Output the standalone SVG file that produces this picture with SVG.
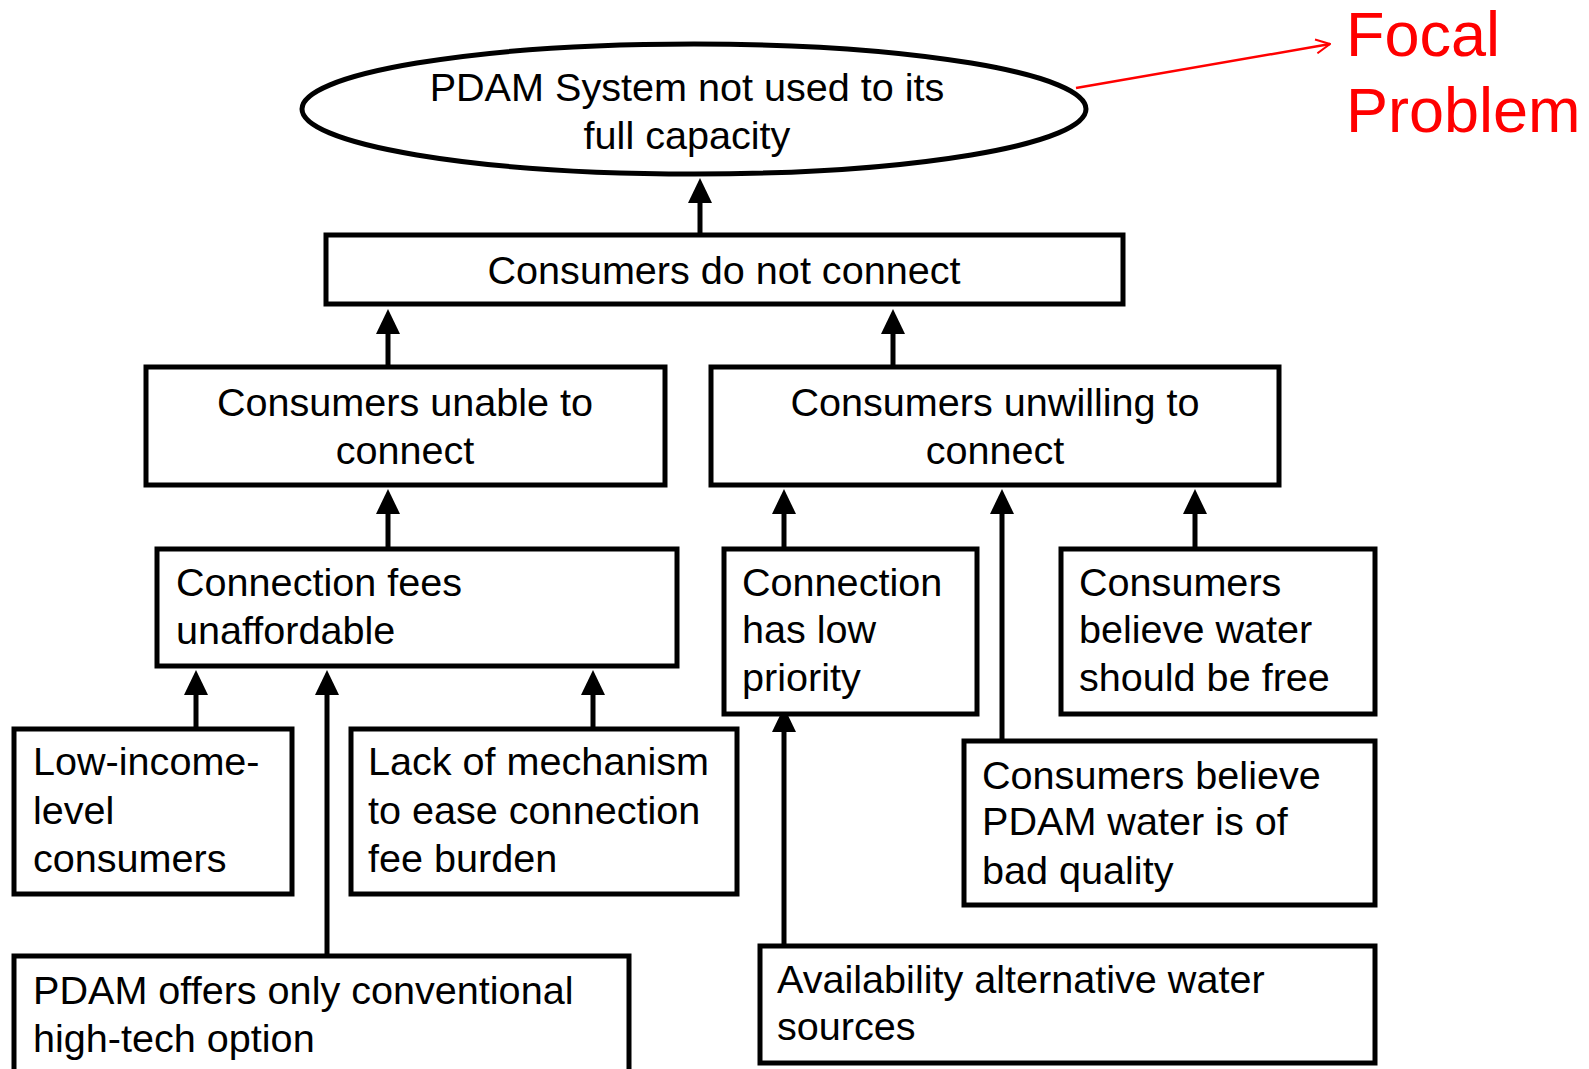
<svg xmlns="http://www.w3.org/2000/svg" width="1589" height="1069" viewBox="0 0 1589 1069">
<style>
.box{fill:#fff;stroke:#000;stroke-width:5}
.t{font-family:"Liberation Sans",Arial,sans-serif;font-size:39.6px;fill:#000}
.c{text-anchor:middle}
.con{stroke:#000;stroke-width:5;fill:none;marker-end:url(#ah)}
.red{font-family:"Liberation Sans",Arial,sans-serif;font-size:63px;fill:#ff0000}
</style>
<defs>
<marker id="ah" markerUnits="userSpaceOnUse" viewBox="0 0 25 24" markerWidth="25" markerHeight="24" refX="2" refY="12" orient="auto">
<path d="M0,0 L25,12 L0,24 z" fill="#000"/>
</marker>
<marker id="ro" markerUnits="userSpaceOnUse" viewBox="0 0 16 16" markerWidth="16" markerHeight="16" refX="15" refY="8" orient="auto">
<path d="M1,1 L15,8 L1,15" fill="none" stroke="#ff0000" stroke-width="2"/>
</marker>
</defs>
<rect width="1589" height="1069" fill="#fff"/>

<g id="connectors">
<line class="con" x1="700" y1="236" x2="700" y2="201"/>
<line class="con" x1="388" y1="367" x2="388" y2="332"/>
<line class="con" x1="893" y1="367" x2="893" y2="332"/>
<line class="con" x1="388" y1="549" x2="388" y2="512"/>
<line class="con" x1="784" y1="549" x2="784" y2="512"/>
<line class="con" x1="1002" y1="741" x2="1002" y2="512"/>
<line class="con" x1="1195" y1="549" x2="1195" y2="512"/>
<line class="con" x1="196" y1="729" x2="196" y2="693"/>
<line class="con" x1="327" y1="956" x2="327" y2="693"/>
<line class="con" x1="593" y1="729" x2="593" y2="693"/>
<line class="con" x1="784" y1="946" x2="784" y2="730"/>
<line x1="1076" y1="88" x2="1330" y2="44" stroke="#ff0000" stroke-width="2.5" marker-end="url(#ro)"/>
</g>

<g id="focal">
<ellipse cx="694" cy="109" rx="392" ry="65" fill="#fff" stroke="#000" stroke-width="5"/>
<text class="t c" x="687" y="101">PDAM System not used to its</text>
<text class="t c" x="687" y="149">full capacity</text>
</g>

<g id="focal-label">
<text class="red" x="1346" y="56">Focal</text>
<text class="red" x="1346" y="132">Problem</text>
</g>

<g id="n-donot">
<rect class="box" x="326" y="235" width="797" height="69"/>
<text class="t c" x="724" y="284">Consumers do not connect</text>
</g>

<g id="n-unable">
<rect class="box" x="146" y="367" width="519" height="118"/>
<text class="t c" x="405" y="416">Consumers unable to</text>
<text class="t c" x="405" y="464">connect</text>
</g>

<g id="n-unwilling">
<rect class="box" x="711" y="367" width="568" height="118"/>
<text class="t c" x="995" y="416">Consumers unwilling to</text>
<text class="t c" x="995" y="464">connect</text>
</g>

<g id="n-fees">
<rect class="box" x="157" y="549" width="520" height="117"/>
<text class="t" x="176" y="596">Connection fees</text>
<text class="t" x="176" y="644">unaffordable</text>
</g>

<g id="n-priority">
<rect class="box" x="724" y="549" width="253" height="165"/>
<text class="t" x="742" y="596">Connection</text>
<text class="t" x="742" y="643">has low</text>
<text class="t" x="742" y="691">priority</text>
</g>

<g id="n-free">
<rect class="box" x="1061" y="549" width="314" height="165"/>
<text class="t" x="1079" y="596">Consumers</text>
<text class="t" x="1079" y="643">believe water</text>
<text class="t" x="1079" y="691">should be free</text>
</g>

<g id="n-lowincome">
<rect class="box" x="14" y="729" width="278" height="165"/>
<text class="t" x="33" y="775">Low-income-</text>
<text class="t" x="33" y="824">level</text>
<text class="t" x="33" y="872">consumers</text>
</g>

<g id="n-mechanism">
<rect class="box" x="351" y="729" width="386" height="165"/>
<text class="t" x="368" y="775">Lack of mechanism</text>
<text class="t" x="368" y="824">to ease connection</text>
<text class="t" x="368" y="872">fee burden</text>
</g>

<g id="n-quality">
<rect class="box" x="964" y="741" width="411" height="164"/>
<text class="t" x="982" y="789">Consumers believe</text>
<text class="t" x="982" y="835">PDAM water is of</text>
<text class="t" x="982" y="884">bad quality</text>
</g>

<g id="n-hightech">
<rect class="box" x="14" y="956" width="615" height="120"/>
<text class="t" x="33" y="1004">PDAM offers only conventional</text>
<text class="t" x="33" y="1052">high-tech option</text>
</g>

<g id="n-alternative">
<rect class="box" x="760" y="946" width="615" height="117"/>
<text class="t" x="777" y="993">Availability alternative water</text>
<text class="t" x="777" y="1040">sources</text>
</g>
</svg>
